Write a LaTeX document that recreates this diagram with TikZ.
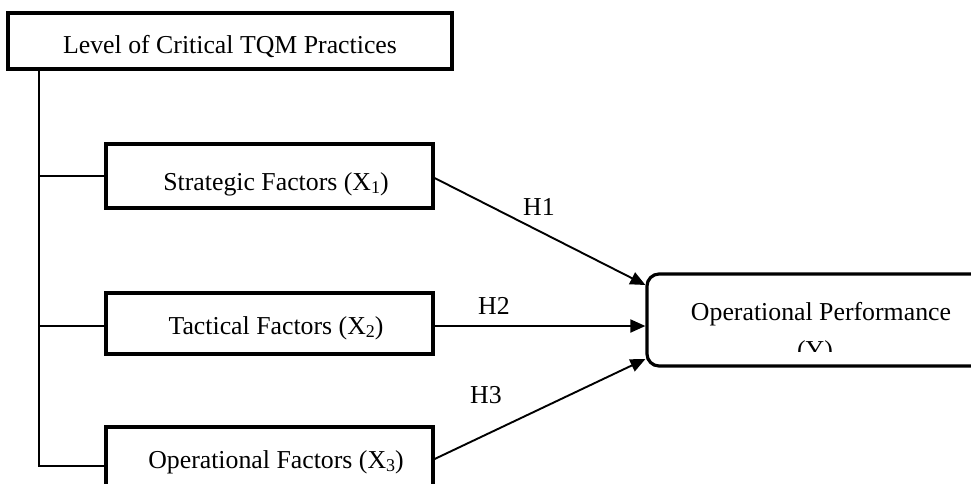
\documentclass[tikz,border=0pt]{standalone}
\usepackage{fontspec}
\setmainfont{Liberation Serif}
\usetikzlibrary{arrows.meta}
\newcommand{\mysub}[1]{\raisebox{-3.5pt}{\fontsize{18}{18}\selectfont #1}}
\begin{document}
\begin{tikzpicture}[x=1pt,y=-1pt,
  box/.style={draw, line width=3.2pt, minimum width=327pt, inner sep=0pt},
  txt/.style={anchor=base, inner sep=0pt, font=\fontsize{25.8}{30}\selectfont},
  tree/.style={line width=1.9pt},
  arr/.style={line width=1.9pt, -{Triangle[length=15pt,width=13pt]}}]
\useasboundingbox (0,0) rectangle (971,483);
\clip (0,0) rectangle (971,483);
% boxes
\node[draw, line width=3.2pt, minimum width=444pt, minimum height=56pt, inner sep=0pt] (lvl) at (230,41) {};
\node[txt] (lvlt) at (230,53) {Level of Critical TQM Practices};
\node[box, minimum height=64pt] (s) at (269.5,176) {};
\node[txt] (st) at (276,190) {Strategic Factors (X\mysub{1})};
\node[box, minimum height=61pt] (t) at (269.5,323.5) {};
\node[txt] (tt) at (276,334) {Tactical Factors (X\mysub{2})};
\node[box, minimum height=64pt] (o) at (269.5,459) {};
\node[txt] (ot) at (276,468) {Operational Factors (X\mysub{3})};
\node[draw, line width=3.2pt, rounded corners=12pt, minimum width=353pt, minimum height=92pt, inner sep=0pt] (op) at (823.5,320) {};
\node[txt] (opt) at (821,320) {Operational Performance};
\begin{scope}
\clip (650,280) rectangle (971,351);
\node[txt] (opy) at (815,358) {(Y)};
\end{scope}
% tree
\coordinate (trunk) at ([xshift=33pt]lvl.south west);
\coordinate (tw) at ([yshift=-2.5pt]t.west);
\coordinate (ow) at ([yshift=-7pt]o.west);
\draw[tree] (trunk) |- (ow);
\draw[tree] (trunk |- s.west) -- (s.west);
\draw[tree] (trunk |- tw) -- (tw);
% arrows
\draw[arr] ([yshift=-2pt]s.east) -- ([yshift=35pt]op.west);
\draw[arr] ([yshift=-2.5pt]t.east) -- ([yshift=-6pt]op.west);
\draw[arr] (o.east) -- ([yshift=-39pt]op.west);
% labels
\node[txt] (h1) at (539,215) {H1};
\node[txt] (h2) at (494,314) {H2};
\node[txt] (h3) at (486,403) {H3};
\end{tikzpicture}
\end{document}
